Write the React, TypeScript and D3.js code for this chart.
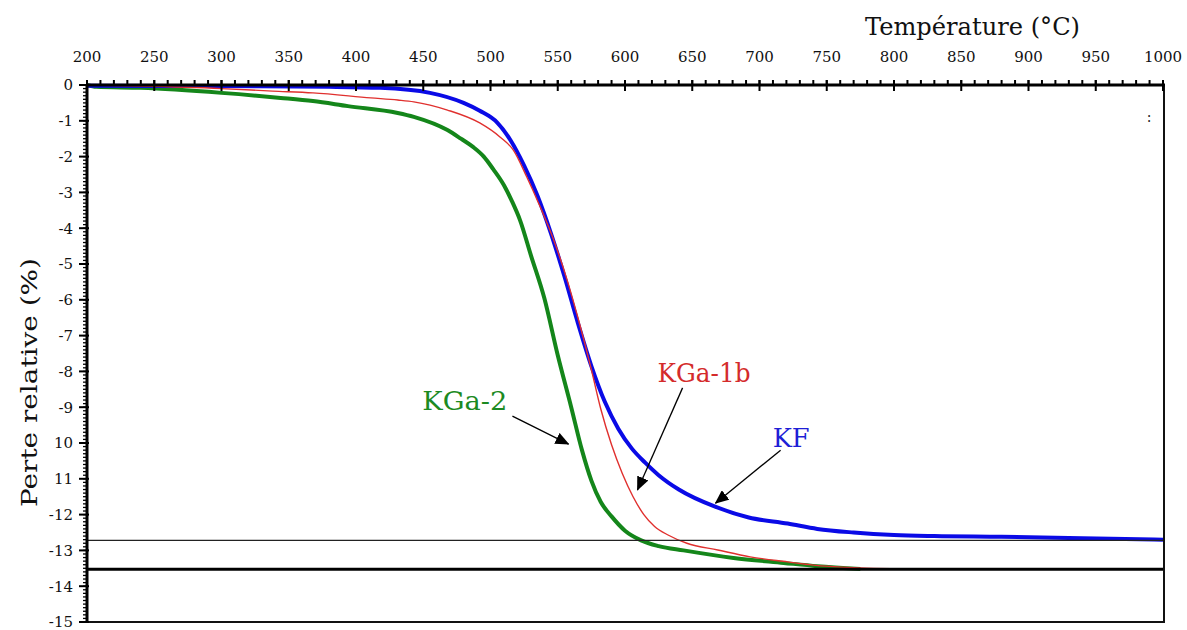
import React from "react";
import * as d3 from "d3";

// ---- Data ----
const tempsKF = [200, 300, 380, 418, 455, 480, 492, 505, 515, 525, 535, 545, 555, 565, 575, 585, 595, 605, 615, 625, 640, 667, 692, 721, 743, 770, 800, 830, 880, 940, 1000];
const lossKF = [-0.02, -0.03, -0.05, -0.08, -0.22, -0.5, -0.72, -1.05, -1.55, -2.25, -3.1, -4.15, -5.35, -6.65, -7.85, -8.85, -9.6, -10.15, -10.55, -10.9, -11.3, -11.78, -12.08, -12.25, -12.4, -12.5, -12.57, -12.6, -12.62, -12.66, -12.7];

const tempsKGa1b = [200, 240, 300, 338, 368, 411, 431, 443, 468, 492, 507, 517, 527, 537, 547, 557, 565, 570, 575, 582, 590, 598, 606, 614, 622, 632, 646, 669, 693, 721, 740, 770, 820];
const lossKGa1b = [0, -0.03, -0.1, -0.17, -0.22, -0.36, -0.42, -0.47, -0.7, -1.06, -1.45, -1.82, -2.57, -3.41, -4.33, -5.45, -6.5, -7.2, -7.95, -9.05, -10.05, -10.85, -11.5, -12.0, -12.33, -12.57, -12.8, -12.99, -13.18, -13.32, -13.41, -13.48, -13.52];

const tempsKGa2 = [200, 207, 240, 300, 344, 368, 394, 431, 443, 468, 478, 487, 495, 502, 510, 516, 522, 530, 540, 550, 560, 568, 575, 582, 590, 600, 612, 625, 643.5, 680.7, 718, 743, 775];
const lossKGa2 = [0, -0.05, -0.08, -0.22, -0.36, -0.45, -0.59, -0.78, -0.89, -1.26, -1.5, -1.73, -2.0, -2.35, -2.8, -3.25, -3.78, -4.75, -5.95, -7.55, -9.0, -10.2, -11.05, -11.65, -12.05, -12.45, -12.72, -12.88, -13.0, -13.21, -13.35, -13.44, -13.52];

const refLevels = [-12.72, -13.53];

const xTickValues = [200, 250, 300, 350, 400, 450, 500, 550, 600, 650, 700, 750, 800, 850, 900, 950, 1000];
const yTickValues = [0, -1, -2, -3, -4, -5, -6, -7, -8, -9, -10, -11, -12, -13, -14, -15];
const yTickLabels = ["0", "-1", "-2", "-3", "-4", "-5", "-6", "-7", "-8", "-9", "10", "11", "-12", "-13", "-14", "-15"];

const seriesNames = ["KGa-2", "KF", "KGa-1b"];

// ---- Layout ----
const W = 1187;
const H = 630;
const left = 87;
const right = 1163;
const top = 85;
const bottom = 622;

const x = d3.scaleLinear().domain([200, 1000]).range([left, right]);
const y = d3.scaleLinear().domain([0, -15]).range([top, bottom]);

const line = d3
  .line<[number, number]>()
  .x((d) => x(d[0]))
  .y((d) => y(d[1]))
  .curve(d3.curveMonotoneX);

const zip = (a: number[], b: number[]) => a.map((t, i) => [t, b[i]] as [number, number]);

const FONT = "'DejaVu Serif', 'Liberation Serif', serif";

export default function App() {
  const xMinor = d3.range(200, 1001, 10);
  const yMinor = d3.range(0, 151, 1).map((i) => -i / 10);

  const series = [
    { name: seriesNames[0], data: zip(tempsKGa2, lossKGa2), color: "#14861a", width: 4 },
    { name: seriesNames[1], data: zip(tempsKF, lossKF), color: "#0a0ae6", width: 4 },
    { name: seriesNames[2], data: zip(tempsKGa1b, lossKGa1b), color: "#e0302e", width: 1.4 },
  ];

  const annotations = [
    { text: "KGa-2", color: "#1c8a22", tx: 449.3, tv: -9.08, len: 85, from: [516.3, -9.25], to: [558, -10.03] },
    { text: "KGa-1b", color: "#d42b2b", tx: 624.2, tv: -8.3, len: 93, from: [642.8, -8.46], to: [609.3, -11.31] },
    { text: "KF", color: "#1f1fd6", tx: 709.8, tv: -10.11, len: 37, from: [715.7, -10.2], to: [667.3, -11.68] },
  ];

  return (
    <svg
      width={W}
      height={H}
      style={{ position: "absolute", left: 0, top: 0, background: "#fff" }}
      fontFamily={FONT}
    >
      <defs>
        <marker
          id="ah"
          markerUnits="userSpaceOnUse"
          markerWidth={14}
          markerHeight={12}
          viewBox="0 0 14 12"
          refX={13}
          refY={6}
          orient="auto"
        >
          <path d="M0,0 L14,6 L0,12 Z" fill="#000" />
        </marker>
      </defs>
      <rect x={0} y={0} width={W} height={H} fill="#fff" />

      {/* curves */}
      {series.map((s) => (
        <path
          key={s.name}
          d={line(s.data) || ""}
          fill="none"
          stroke={s.color}
          strokeWidth={s.width}
          strokeLinejoin="round"
        />
      ))}

      {/* reference horizontal lines */}
      <line x1={left} x2={right} y1={y(refLevels[0])} y2={y(refLevels[0])} stroke="#222" strokeWidth={1.3} />
      <line x1={left} x2={right} y1={y(refLevels[1])} y2={y(refLevels[1])} stroke="#000" strokeWidth={3} />

      {/* frame: right and bottom */}
      <line x1={right + 1} x2={right + 1} y1={top} y2={bottom} stroke="#111" strokeWidth={2} />
      <line x1={left} x2={right + 2} y1={bottom} y2={bottom} stroke="#111" strokeWidth={2} />

      {/* top x axis */}
      <line x1={left - 1} x2={right + 2} y1={top} y2={top} stroke="#000" strokeWidth={3} />
      {xMinor.map((t) => (
        <line key={"xm" + t} x1={x(t)} x2={x(t)} y1={top - 5} y2={top} stroke="#000" strokeWidth={2} />
      ))}
      {xTickValues.map((t) => (
        <g key={"xt" + t}>
          <line x1={x(t)} x2={x(t)} y1={top - 5} y2={top + 6} stroke="#000" strokeWidth={2} />
          <text x={x(t)} y={62} textAnchor="middle" fontSize={15} fill="#111">
            {t}
          </text>
        </g>
      ))}
      <text x={865} y={35} fontSize={24} textLength={215} lengthAdjust="spacingAndGlyphs" fill="#111">
        Température (°C)
      </text>

      {/* left y axis */}
      <line x1={left} x2={left} y1={top - 1} y2={bottom + 1} stroke="#000" strokeWidth={3} />
      {yMinor.map((v) => (
        <line key={"ym" + v} x1={left - 4} x2={left} y1={y(v)} y2={y(v)} stroke="#000" strokeWidth={1.3} />
      ))}
      {yTickValues.map((v, i) => (
        <g key={"yt" + v}>
          <line x1={left - 8} x2={left + 2} y1={y(v)} y2={y(v)} stroke="#000" strokeWidth={2} />
          <text x={73} y={y(v)} dy="0.36em" textAnchor="end" fontSize={15} fill="#111">
            {yTickLabels[i]}
          </text>
        </g>
      ))}
      <text
        transform="translate(37,507) rotate(-90)"
        fontSize={22}
        textLength={249}
        lengthAdjust="spacingAndGlyphs"
        fill="#111"
      >
        Perte relative  (%)
      </text>

      {/* annotations */}
      {annotations.map((a) => (
        <g key={a.text}>
          <text
            x={x(a.tx)}
            y={y(a.tv)}
            fontSize={26}
            textLength={a.len}
            lengthAdjust="spacingAndGlyphs"
            fill={a.color}
          >
            {a.text}
          </text>
          <line
            x1={x(a.from[0])}
            y1={y(a.from[1])}
            x2={x(a.to[0])}
            y2={y(a.to[1])}
            stroke="#000"
            strokeWidth={1.3}
            markerEnd="url(#ah)"
          />
        </g>
      ))}

      {/* small artefact mark at upper right */}
      <text x={x(988)} y={y(-1.03)} fontSize={14} fill="#222">
        :
      </text>
    </svg>
  );
}
